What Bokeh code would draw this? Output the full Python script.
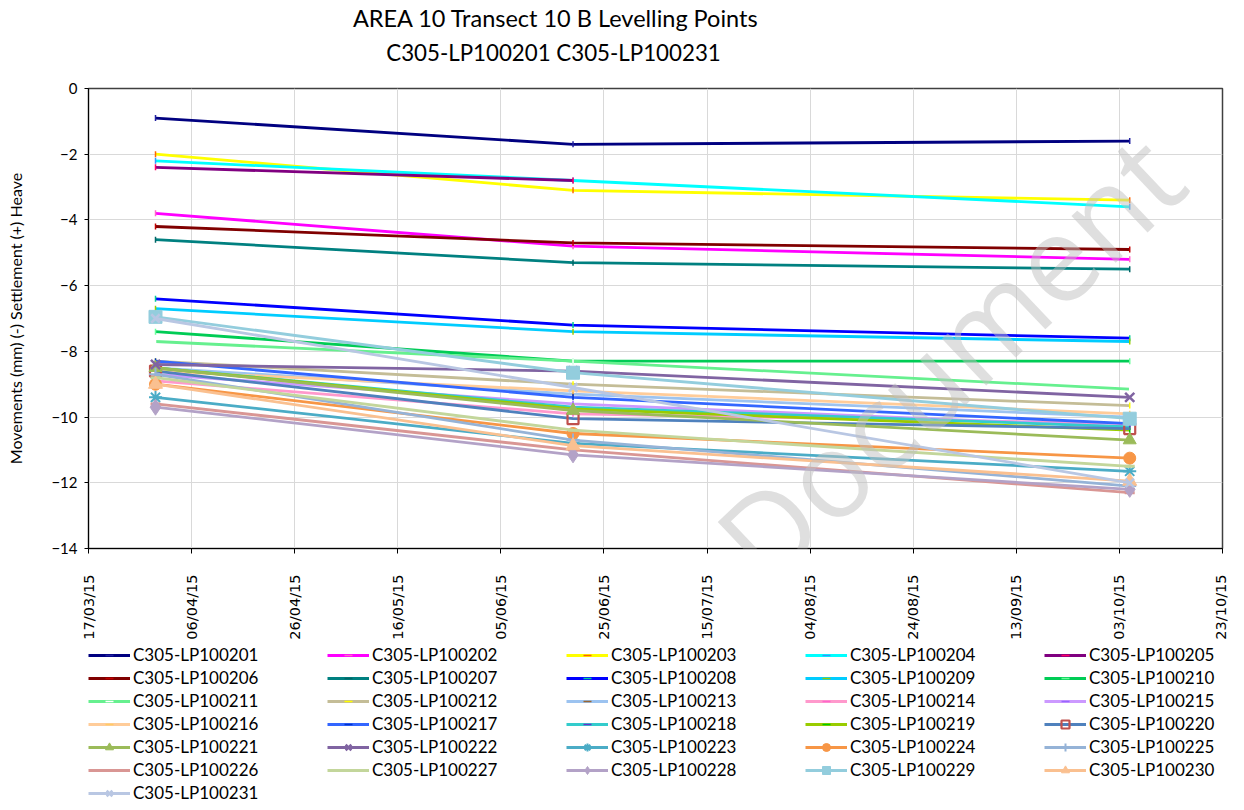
import datetime as dt
import math
from bokeh.plotting import figure
from bokeh.layouts import column
from bokeh.models import (Legend, LegendItem, Label, FixedTicker,
                          DatetimeTickFormatter, Range1d)
from bokeh.embed import file_html
from bokeh.resources import INLINE

# ---------------- data ----------------
survey_dates = [dt.datetime(2015, 3, 30), dt.datetime(2015, 6, 19), dt.datetime(2015, 10, 5)]

point_names = [
    "C305-LP100201", "C305-LP100202", "C305-LP100203", "C305-LP100204", "C305-LP100205",
    "C305-LP100206", "C305-LP100207", "C305-LP100208", "C305-LP100209", "C305-LP100210",
    "C305-LP100211", "C305-LP100212", "C305-LP100213", "C305-LP100214", "C305-LP100215",
    "C305-LP100216", "C305-LP100217", "C305-LP100218", "C305-LP100219", "C305-LP100220",
    "C305-LP100221", "C305-LP100222", "C305-LP100223", "C305-LP100224", "C305-LP100225",
    "C305-LP100226", "C305-LP100227", "C305-LP100228", "C305-LP100229", "C305-LP100230",
    "C305-LP100231",
]

# movement (mm) at each survey date, one entry per levelling point
move_2015_03_30 = [-0.9, -3.8, -2.0, -2.2, -2.4, -4.2, -4.6, -6.4, -6.7, -7.4,
                   -7.7, -8.3, -8.5, -8.9, -8.7, -8.6, -8.3, -8.5, -8.5, -8.6,
                   -8.5, -8.4, -9.4, -9.0, -8.7, -9.6, -8.8, -9.7, -6.95, -9.0,
                   -7.0]
move_2015_06_19 = [-1.7, -4.8, -3.1, -2.8, -2.8, -4.7, -5.3, -7.2, -7.4, -8.3,
                   -8.3, -9.0, -9.3, -9.9, -9.6, -9.2, -9.4, -9.7, -9.75, -10.05,
                   -9.8, -8.6, -10.8, -10.5, -10.7, -11.0, -10.4, -11.15, -8.65, -10.87,
                   -9.1]
move_2015_10_05 = [-1.6, -5.2, -3.4, -3.6, None, -4.9, -5.5, -7.6, -7.7, -8.3,
                   -9.15, -9.65, -10.0, -10.2, -10.3, -9.9, -10.2, -10.3, -10.4, -10.35,
                   -10.7, -9.4, -11.65, -11.25, -12.1, -12.3, -11.5, -12.2, -10.05, -11.95,
                   -12.0]

x_tick_dates = [dt.datetime(2015, 3, 17) + dt.timedelta(days=20 * k) for k in range(12)]
y_ticks = [-14, -12, -10, -8, -6, -4, -2, 0]

title_line_1 = "AREA 10 Transect 10 B Levelling Points"
title_line_2 = "C305-LP100201 C305-LP100231"
y_label = "Movements (mm) (-) Settlement (+) Heave"
watermark = "Legacy Document"

# ---------------- styles ----------------
line_colors = [
    "#000080", "#FF00FF", "#FFFF00", "#00FFFF", "#800080",
    "#800000", "#008080", "#0000FF", "#00CCFF", "#00CC55",
    "#66F08F", "#C4BD97", "#9CC3F0", "#FF99CC", "#CC99FF",
    "#FFCC99", "#3366FF", "#33CCCC", "#99CC00", "#4F81BD",
    "#9BBB59", "#8064A2", "#4BACC6", "#F79646", "#95B3D7",
    "#D99694", "#C3D69B", "#B3A2C7", "#93CDDD", "#FAC090",
    "#B9C7E3",
]
tick_colors = [
    "#2020A0", "#FF66CC", "#FF6600", "#3399FF", "#FF0066",
    "#C00000", "#006666", "#00CC99", "#99CC00", "#66FF99",
    "#FFFFFF", "#FFFF00", "#996633", "#FF66CC", "#9966FF",
    "#FFCC66", "#0033CC", "#6633CC", "#00CC00",
]
# marker specs for the last 12 points: (marker, size, fill colour, line colour, line width)
marker_specs = [
    ("square", 11, None, "#C0504D", 2.2),
    ("triangle", 13, "#9BBB59", "#9BBB59", 1),
    ("x", 13, None, "#8064A2", 2.5),
    ("asterisk", 13, None, "#4BACC6", 2),
    ("circle", 12, "#F79646", "#F79646", 1),
    ("cross", 13, None, "#95B3D7", 2),
    ("dash", 10, None, "#D99694", 3),
    ("dash", 10, None, "#C3D69B", 3),
    ("diamond", 16, "#B3A2C7", "#B3A2C7", 1),
    ("square", 13, "#93CDDD", "#93CDDD", 1),
    ("triangle", 14, "#FAC090", "#FAC090", 1),
    ("x", 12, None, "#B9C7E3", 2.5),
]

FONT = "Lato"
W = 1228
FRAME_L, FRAME_R = 88, 1222


def bare(fig):
    fig.title.visible = False
    fig.grid.visible = False
    fig.outline_line_color = None
    fig.background_fill_color = "white"
    fig.border_fill_color = "white"


# ---------------- title strip ----------------
t = figure(width=W, height=80, output_backend="svg", toolbar_location=None,
           x_range=Range1d(FRAME_L, FRAME_R), y_range=Range1d(80, 0),
           x_axis_location=None, y_axis_location=None,
           min_border_left=0, min_border_right=0, min_border_top=0, min_border_bottom=0)
bare(t)
t.add_layout(Label(x=555.5, y=17, text=title_line_1, text_align="center",
                   text_baseline="middle", text_font=FONT, text_font_size="23.5px",
                   text_color="black"))
t.add_layout(Label(x=553, y=52, text=title_line_2, text_align="center",
                   text_baseline="middle", text_font=FONT, text_font_size="22.3px",
                   text_color="black"))

# ---------------- main chart ----------------
p = figure(width=W, height=562, x_axis_type="datetime",
           output_backend="svg", toolbar_location=None,
           x_range=Range1d(dt.datetime(2015, 3, 17), dt.datetime(2015, 10, 23)),
           y_range=Range1d(-14, 0),
           min_border_left=FRAME_L, min_border_right=W - FRAME_R,
           min_border_top=8, min_border_bottom=94)
p.title.visible = False
p.background_fill_color = "white"
p.border_fill_color = "white"
p.outline_line_color = "#404040"
p.outline_line_width = 1.5

ms = [(d - dt.datetime(1970, 1, 1)).total_seconds() * 1000 for d in x_tick_dates]
p.xaxis.ticker = FixedTicker(ticks=ms)
fmt = "%d/%m/%y"
p.xaxis.formatter = DatetimeTickFormatter(milliseconds=fmt, seconds=fmt, minsec=fmt, minutes=fmt,
                                          hourmin=fmt, hours=fmt, days=fmt, months=fmt, years=fmt)
p.xaxis.major_label_orientation = math.pi / 2
p.xaxis.major_label_text_font = "DejaVu Sans"
p.xaxis.major_label_text_font_size = "14.5px"
p.xaxis.major_label_text_color = "black"
p.xaxis.major_label_standoff = 21
p.xaxis.major_tick_out = 5
p.xaxis.major_tick_in = 0
p.xaxis.minor_tick_line_color = None
p.xaxis.axis_line_color = "black"
p.xaxis.major_tick_line_color = "black"

p.yaxis.ticker = FixedTicker(ticks=y_ticks)
p.yaxis.major_label_text_font = FONT
p.yaxis.major_label_text_font_size = "15px"
p.yaxis.major_label_text_color = "black"
p.yaxis.major_tick_out = 4
p.yaxis.major_tick_in = 0
p.yaxis.minor_tick_line_color = None
p.yaxis.major_label_standoff = 7
p.yaxis.axis_line_color = "black"
p.yaxis.major_tick_line_color = "black"
p.yaxis.axis_label = y_label
p.yaxis.axis_label_text_font = FONT
p.yaxis.axis_label_text_font_size = "16px"
p.yaxis.axis_label_text_font_style = "normal"
p.yaxis.axis_label_text_color = "black"
p.yaxis.axis_label_standoff = 23

p.xgrid.ticker = FixedTicker(ticks=ms)
p.ygrid.ticker = FixedTicker(ticks=y_ticks)
p.grid.grid_line_color = "#D9D9D9"
p.grid.grid_line_width = 1

# ---------------- legend strip ----------------
LEG_H = 168
lg = figure(width=W, height=LEG_H, output_backend="svg", toolbar_location=None,
            x_range=Range1d(0, 1), y_range=Range1d(0, 1),
            x_axis_location=None, y_axis_location=None,
            min_border_left=0, min_border_right=0, min_border_top=0, min_border_bottom=0)
bare(lg)


def draw_series(fig, i, xs, ys):
    lr = fig.line(xs, ys, line_color=line_colors[i], line_width=2.8)
    if i < len(tick_colors):
        sr = fig.scatter(xs, ys, marker="dash", angle=math.pi / 2, size=6,
                         line_color=tick_colors[i], line_width=1.5)
    else:
        mk, sz, fc, lc, lw = marker_specs[i - len(tick_colors)]
        sr = fig.scatter(xs, ys, marker=mk, size=sz,
                         fill_color=fc if fc else "white",
                         fill_alpha=1 if fc else 0,
                         line_color=lc, line_width=lw)
    return lr, sr


items = []
for i, name in enumerate(point_names):
    ys = [move_2015_03_30[i], move_2015_06_19[i], move_2015_10_05[i]]
    xs = [d for d, v in zip(survey_dates, ys) if v is not None]
    ys = [v for v in ys if v is not None]
    draw_series(p, i, xs, ys)
    # the same series in the legend strip (outside its visible range) feed the legend glyphs
    lr, sr = draw_series(lg, i, xs, ys)
    items.append(LegendItem(label=name, renderers=[lr, sr]))

legend = Legend(items=items, orientation="horizontal", ncols=5,
                location=(0, 7),
                glyph_width=42, glyph_height=20, label_height=20, label_width=192,
                label_standoff=3, spacing=2, padding=0, margin=0,
                label_text_font=FONT, label_text_font_size="17px",
                label_text_color="black",
                border_line_color=None, background_fill_alpha=0)
lg.add_layout(legend)

# watermark
p.add_layout(Label(x=711, y=50, x_units="screen", y_units="screen",
                   text=watermark, angle=43.5, angle_units="deg",
                   text_align="center", text_baseline="middle",
                   text_font="Open Sans", text_font_size="120px",
                   text_color="#BFBFBF", text_alpha=0.5))

open("out.html", "w").write(file_html(column(t, p, lg, spacing=0), INLINE))
